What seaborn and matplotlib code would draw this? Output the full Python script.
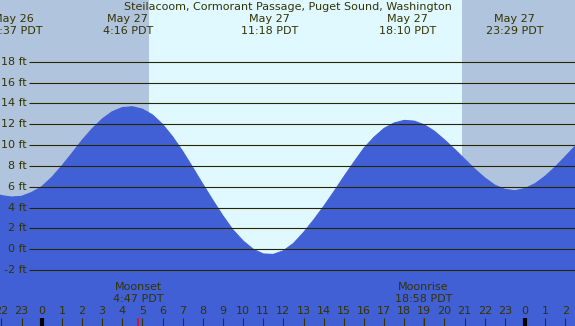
import seaborn as sns
import matplotlib.pyplot as plt

# Tide heights (ft), hours relative to May 27 00:00 PDT
hours = [-2.5, -2.0, -1.5, -1.0, -0.5, 0.0, 0.5, 1.0, 1.5, 2.0,
         2.5, 3.0, 3.5, 4.0, 4.5, 5.0, 5.5, 6.0, 6.5, 7.0,
         7.5, 8.0, 8.5, 9.0, 9.5, 10.0, 10.5, 11.0, 11.5, 12.0,
         12.5, 13.0, 13.5, 14.0, 14.5, 15.0, 15.5, 16.0, 16.5, 17.0,
         17.5, 18.0, 18.5, 19.0, 19.5, 20.0, 20.5, 21.0, 21.5, 22.0,
         22.5, 23.0, 23.5, 24.0, 24.5, 25.0, 25.5, 26.0, 26.5, 27.0]
heights = [5.48, 5.15, 5.01, 5.08, 5.45, 6.0, 6.9, 8.0, 9.2, 10.45,
           11.55, 12.5, 13.2, 13.6, 13.68, 13.45, 12.9, 12.0, 10.8, 9.4,
           7.85, 6.25, 4.7, 3.2, 1.85, 0.8, 0.0, -0.45, -0.5, -0.15,
           0.55, 1.6, 2.8, 4.1, 5.5, 6.95, 8.35, 9.7, 10.75, 11.6,
           12.12, 12.37, 12.3, 11.94, 11.33, 10.5, 9.6, 8.65, 7.7, 6.85,
           6.15, 5.75, 5.62, 5.83, 6.3, 7.01, 7.9, 8.9, 9.92, 10.91]

# High / low tide labels
extreme_hours = [-1.383, 4.267, 11.3, 18.167, 23.483]
extreme_dates = ["May 26", "May 27", "May 27", "May 27", "May 27"]
extreme_times = ["22:37 PDT", "4:16 PDT", "11:18 PDT", "18:10 PDT", "23:29 PDT"]

# Sun and moon
sunrise = 5.33
sunset = 20.88
moon_hours = [4.783, 18.967]
moon_names = ["Moonset", "Moonrise"]
moon_times = ["4:47 PDT", "18:58 PDT"]

# Axis ticks
grid_levels = [-2, 0, 2, 4, 6, 8, 10, 12, 14, 16, 18]
tick_hours = list(range(-2, 27))
tick_labels = ["22", "23"] + [str(h) for h in range(24)] + ["0", "1", "2"]

title = "Steilacoom, Cormorant Passage, Puget Sound, Washington"

night_color = "#b0c4de"
day_color = "#e0f8ff"
water_color = "#4160d6"
text_color = "#333300"
grid_color = "#262600"

sns.set_theme(style="white")
plt.rcParams["font.family"] = ["DejaVu Sans"]

W, H = 575, 326
fig = plt.figure(figsize=(W / 100, H / 100), dpi=100)
ax = fig.add_axes([0, 0, 1, 1])
xmin, xmax = -2.07, 26.48
ymin, ymax = -7.37, 23.93
ax.set_xlim(xmin, xmax)
ax.set_ylim(ymin, ymax)
ax.set_axis_off()

# Night / day background
ax.axvspan(xmin, sunrise, color=night_color, lw=0, zorder=0)
ax.axvspan(sunrise, sunset, color=day_color, lw=0, zorder=0)
ax.axvspan(sunset, xmax, color=night_color, lw=0, zorder=0)

# Tide curve
sns.lineplot(x=hours, y=heights, ax=ax, color=water_color, lw=0.8, zorder=2)
ax.fill_between(hours, heights, ymin, color=water_color, lw=0, zorder=2)

# Grid lines and labels
ytr = ax.get_yaxis_transform()
ax.hlines(grid_levels, 29 / W, 1, transform=ytr, color=grid_color, lw=0.8, zorder=3)
for lv in grid_levels:
    ax.text(27 / W, lv, f"{lv} ft", transform=ytr, ha="right", va="center",
            fontsize=8, color=text_color, zorder=4)

xtr = ax.get_xaxis_transform()


def fy(px):
    return 1 - px / H


# Title
ax.text(0.5, fy(7), title, transform=ax.transAxes, ha="center", va="center",
        fontsize=8, color=text_color, zorder=4)

# Extreme labels
for h, d, t in zip(extreme_hours, extreme_dates, extreme_times):
    ax.text(h, fy(19.5), d, transform=xtr, ha="center", va="center",
            fontsize=8, color=text_color, zorder=4)
    ax.text(h, fy(31), t, transform=xtr, ha="center", va="center",
            fontsize=8, color=text_color, zorder=4)

# Moon labels and red ticks
for h, n, t in zip(moon_hours, moon_names, moon_times):
    ax.text(h, fy(287), n, transform=xtr, ha="center", va="center",
            fontsize=8, color=text_color, zorder=4)
    ax.text(h, fy(299), t, transform=xtr, ha="center", va="center",
            fontsize=8, color=text_color, zorder=4)
    ax.vlines(h, 0, 8 / H, transform=xtr, color="red", lw=1.1, zorder=4)

# Hour ticks
for h, lab in zip(tick_hours, tick_labels):
    midnight = lab == "0"
    ax.vlines(h, 0, 8 / H, transform=xtr, color="black" if midnight else text_color,
              lw=3 if midnight else 0.8, zorder=4)
    ax.text(h, fy(311.5), lab, transform=xtr, ha="center", va="center",
            fontsize=8, color=text_color, zorder=4)

fig.savefig("out.png", dpi=100)
